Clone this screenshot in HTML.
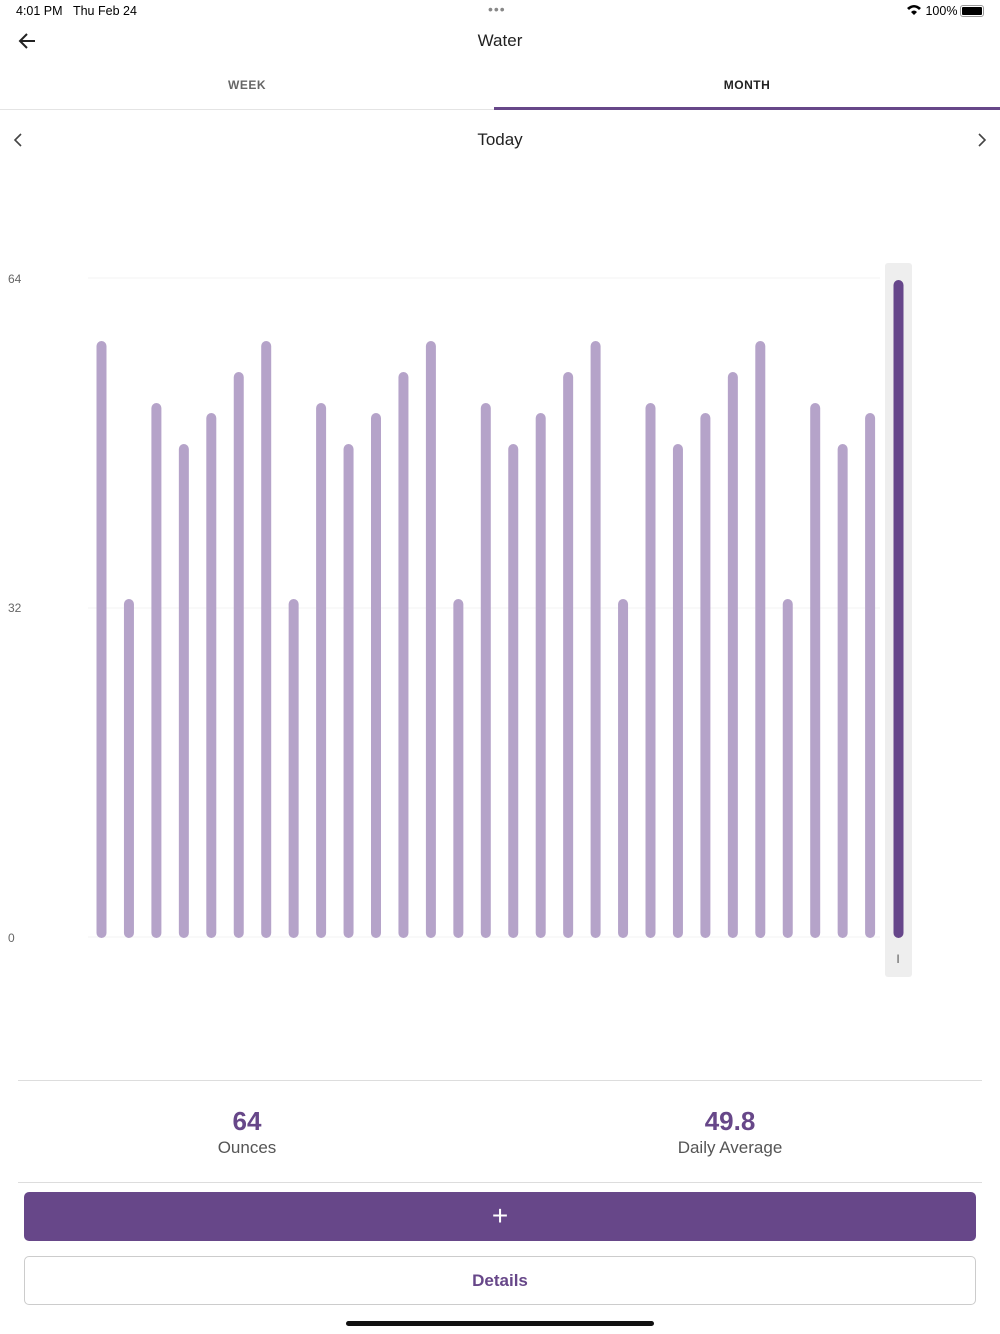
<!DOCTYPE html>
<html><head><meta charset="utf-8"><style>
*{margin:0;padding:0;box-sizing:border-box}
body{width:1000px;height:1334px;background:#fff;font-family:"Liberation Sans",sans-serif;position:relative;overflow:hidden;color:#222}
.a{position:absolute}
</style></head><body>
<div class="a" style="left:16px;top:4px;font-size:12.5px;color:#000">4:01 PM&nbsp;&nbsp;&nbsp;Thu Feb 24</div>
<div class="a" style="left:488px;top:1px;font-size:14px;color:#888;letter-spacing:1px">•••</div>
<div class="a" style="left:906px;top:4px;font-size:12.5px;color:#000">
<svg width="16" height="12" viewBox="0 0 16 12" style="vertical-align:-1px"><path d="M1 4 Q8 -2 15 4 L13 6 Q8 1 3 6Z M5 8 Q8 5 11 8 L8 11Z" fill="#000"/></svg> 100%</div>
<div class="a" style="left:960px;top:5px;width:24px;height:12px;border:1px solid #999;border-radius:3px;padding:1px"><div style="background:#000;width:100%;height:100%;border-radius:1px"></div></div>
<svg class="a" style="left:16px;top:31px" width="22" height="20" viewBox="0 0 22 20"><path d="M19 10H4M11 3L4 10L11 17" stroke="#222" stroke-width="2" fill="none"/></svg>
<div class="a" style="left:0;width:1000px;top:31px;text-align:center;font-size:17px">Water</div>
<div class="a" style="left:0;width:494px;top:78px;text-align:center;font-size:12px;font-weight:bold;color:#666;letter-spacing:.5px">WEEK</div>
<div class="a" style="left:494px;width:506px;top:78px;text-align:center;font-size:12px;font-weight:bold;color:#222;letter-spacing:.5px">MONTH</div>
<div class="a" style="left:0;width:1000px;top:109px;height:1px;background:#e4e4e4"></div>
<div class="a" style="left:494px;width:506px;top:107px;height:3px;background:#674789"></div>
<svg class="a" style="left:12px;top:132px" width="12" height="16"><path d="M9 2L3 8L9 14" stroke="#444" stroke-width="1.6" fill="none"/></svg>
<svg class="a" style="left:976px;top:132px" width="12" height="16"><path d="M3 2L9 8L3 14" stroke="#444" stroke-width="1.6" fill="none"/></svg>
<div class="a" style="left:0;width:1000px;top:130px;text-align:center;font-size:17px">Today</div>
<svg class="a" style="left:0;top:0" width="1000" height="1000">
<rect x="885" y="263" width="27" height="714" rx="3" fill="#eeeeee"/>
<line x1="88" x2="880" y1="278" y2="278" stroke="#f3f3f3"/>
<line x1="88" x2="880" y1="608" y2="608" stroke="#f3f3f3"/>
<line x1="88" x2="880" y1="937" y2="937" stroke="#f3f3f3"/>
<text x="8" y="283" font-size="12" fill="#666" font-family="Liberation Sans">64</text>
<text x="8" y="612" font-size="12" fill="#666" font-family="Liberation Sans">32</text>
<text x="8" y="942" font-size="12" fill="#666" font-family="Liberation Sans">0</text>
<text x="898" y="963" font-size="12" fill="#555" text-anchor="middle" font-family="Liberation Sans">I</text>
<g id="bars" stroke-linecap="round" stroke-width="10" stroke="#b5a3c9"></g>
<line x1="898.5" x2="898.5" y1="285" y2="933" stroke="#66468a" stroke-width="10" stroke-linecap="round"/>
</svg>
<script>
var g=document.getElementById('bars'),s='';
for(var i=0;i<29;i++){
var p=[600,404,445,414,373,342][(i-1+6)%6];if(i==0)p=342;
var x=101.5+i*27.45;s+='<line x1="'+x+'" x2="'+x+'" y1="'+(p+4)+'" y2="933"/>';}
g.innerHTML=s;
</script>
<div class="a" style="left:18px;width:964px;top:1080px;height:1px;background:#ddd"></div>
<div class="a" style="left:0;width:494px;top:1106px;text-align:center;font-size:26px;font-weight:bold;color:#674789">64</div>
<div class="a" style="left:0;width:494px;top:1138px;text-align:center;font-size:17px;color:#555">Ounces</div>
<div class="a" style="left:480px;width:500px;top:1106px;text-align:center;font-size:26px;font-weight:bold;color:#674789">49.8</div>
<div class="a" style="left:480px;width:500px;top:1138px;text-align:center;font-size:17px;color:#555">Daily Average</div>
<div class="a" style="left:18px;width:964px;top:1182px;height:1px;background:#ddd"></div>
<div class="a" style="left:24px;width:952px;top:1192px;height:49px;background:#674789;border-radius:5px;color:#fff;text-align:center;font-size:28px;line-height:47px;font-weight:300">+</div>
<div class="a" style="left:24px;width:952px;top:1256px;height:49px;border:1px solid #ccc;border-radius:5px;color:#674789;text-align:center;font-size:17px;line-height:47px;font-weight:bold">Details</div>
<div class="a" style="left:346px;width:308px;top:1321px;height:5px;background:#111;border-radius:3px"></div>
</body></html>
